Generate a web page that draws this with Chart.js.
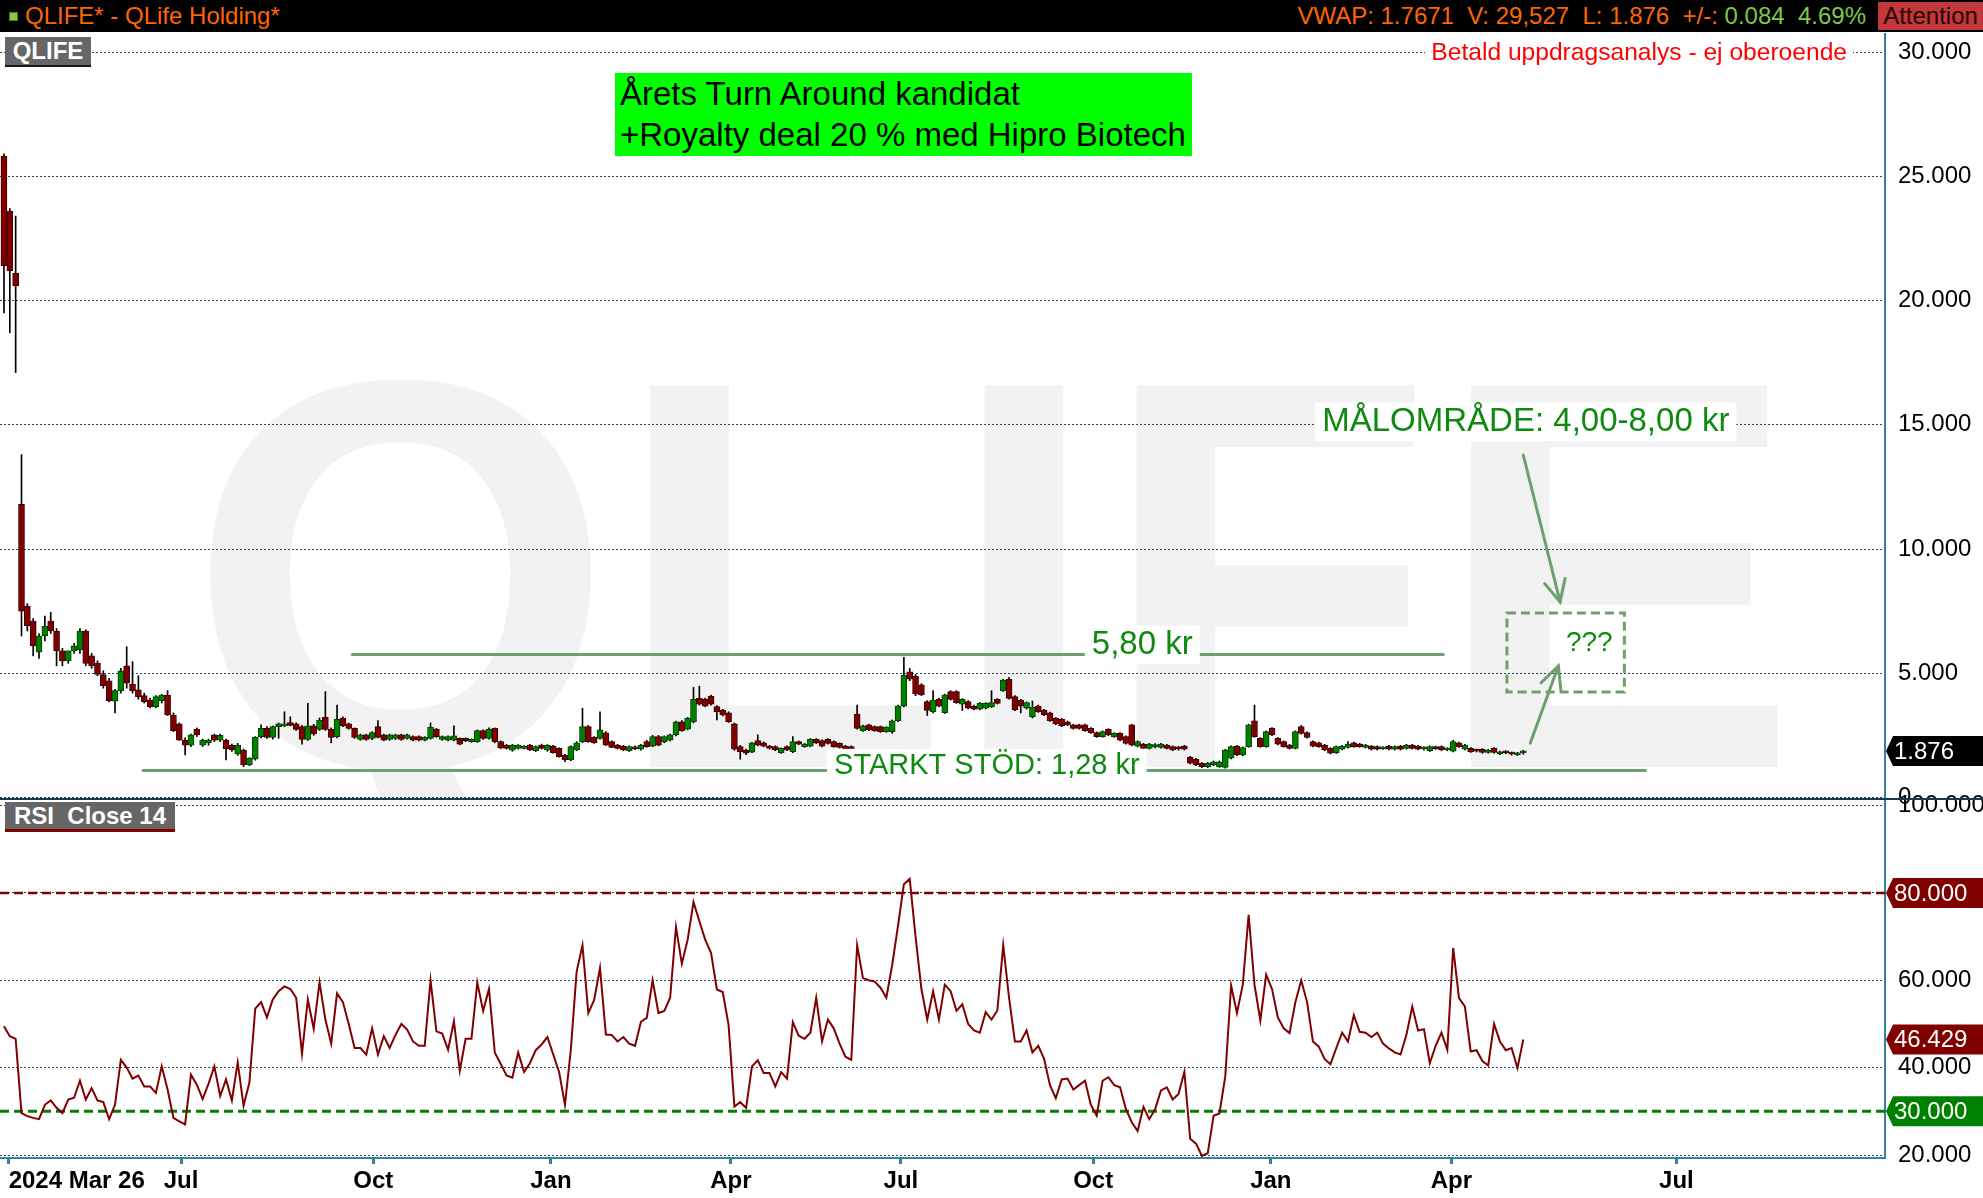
<!DOCTYPE html>
<html>
<head>
<meta charset="utf-8">
<script src="https://cdn.jsdelivr.net/npm/chart.js@4.4.1/dist/chart.umd.min.js"></script>
<style>
html,body{margin:0;padding:0;background:#fff;overflow:hidden}
body{width:1983px;height:1198px;position:relative;font-family:"Liberation Sans",Arial,sans-serif}
#hdr{position:absolute;left:0;top:0;width:1983px;height:32px;background:#000;z-index:5;font-size:24px;line-height:32px;white-space:pre}
#sq{position:absolute;left:9px;top:12px;width:7px;height:7px;background:#8dc63f;border:1px solid #4a7a20}
#ttl{position:absolute;left:25px;top:0;color:#ff6600}
#info{position:absolute;right:117px;top:0;color:#ff6600}
#info .g{color:#7cc94a}
#att{position:absolute;left:1878px;top:2px;width:105px;height:28px;line-height:28px;background:#c1393c;color:#2a0000;text-align:center}
#pcw{position:absolute;left:0;top:33px;width:1983px;height:787px}
#rcw{position:absolute;left:0;top:775px;width:1983px;height:423px}
.tag{position:absolute;background:#666;color:#fff;font-weight:bold;font-size:24px;text-align:center;z-index:5;white-space:pre}
#qtag{left:5px;top:37px;width:86px;height:28px;line-height:28px;border-bottom:2px solid #1a1a1a}
#rtag{left:5px;top:802px;width:170px;height:27px;line-height:28px;border-bottom:3px solid #800000}
#banner{position:absolute;left:615px;top:73px;width:572px;height:83px;padding-left:5px;background:#00ff00;color:#000;font-size:33px;line-height:41px;white-space:nowrap;z-index:5}
#disc{position:absolute;right:130px;top:39px;height:26px;line-height:26px;padding:0 6px;background:#fff;color:#ff0000;font-size:24.6px;white-space:nowrap;z-index:5}
#sep{position:absolute;left:0;top:798px;width:1983px;height:2px;background:#173b4b;z-index:4}
</style>
</head>
<body>
<div id="hdr"><span id="sq"></span><span id="ttl">QLIFE* - QLife Holding*</span><span id="info">VWAP: 1.7671  V: 29,527  L: 1.876  +/-: <span class="g">0.084  4.69%</span></span><span id="att">Attention</span></div>
<div id="pcw"><canvas id="pc" width="1983" height="787" style="width:1983px;height:787px"></canvas></div>
<div id="rcw"><canvas id="rc" width="1983" height="423" style="width:1983px;height:423px"></canvas></div>
<div id="sep"></div>
<div id="qtag" class="tag">QLIFE</div>
<div id="rtag" class="tag">RSI  Close 14</div>
<div id="banner">Årets Turn Around kandidat<br>+Royalty deal 20 % med Hipro Biotech</div>
<div id="disc">Betald uppdragsanalys - ej oberoende</div>
<script>
// ---------- DATA (one candle per two trading days, 2024-03 .. 2026-04) ----------
const open = [
25.8,23.6,21.1,11.8,7.7,7.1,5.85,6.5,7.1,6.7,
5.9,5.5,5.9,5.95,6.7,5.7,5.4,4.95,4.7,3.88,
4.3,5.3,4.55,4.33,4.1,3.92,3.66,3.9,4.12,3.32,
2.96,2.31,2.11,2.74,2.11,2.2,2.52,2.31,2.31,2.11,
1.75,1.91,1.31,1.54,2.45,2.78,2.42,2.85,2.88,3.01,
2.96,2.85,2.34,2.88,2.74,3.23,2.74,2.45,3.19,2.96,
2.78,2.34,2.52,2.38,2.85,2.52,2.34,2.38,2.52,2.38,
2.45,2.45,2.31,2.38,2.75,2.34,2.31,2.31,2.38,2.38,
2.25,2.25,2.69,2.38,2.78,2.25,2.11,1.9,1.98,1.98,
2.11,1.88,2.11,1.9,2.07,1.98,1.71,1.51,1.91,2.25,
2.85,2.42,2.38,2.6,2.25,2.11,2.07,1.88,2.0,1.94,
2.25,2.07,2.45,2.25,2.31,2.52,3.05,2.75,3.05,3.99,
3.95,4.08,3.66,3.52,3.41,2.96,2.05,1.91,1.82,2.29,
2.2,2.07,2.05,1.8,2.05,1.84,2.25,2.05,2.07,2.34,
2.29,2.34,2.25,2.18,2.07,2.05,3.36,2.69,2.92,2.85,
2.85,2.65,2.65,3.09,3.68,5.06,4.89,4.53,3.86,3.45,
3.95,3.41,4.26,4.26,3.76,3.86,3.68,3.55,3.59,3.65,
3.95,4.3,4.76,4.06,3.92,3.59,3.25,3.68,3.52,3.41,
3.19,3.15,3.05,2.92,2.92,2.92,2.78,2.61,2.45,2.74,
2.45,2.58,2.45,2.92,2.07,2.15,1.98,2.05,2.02,2.11,
2.05,2.02,2.07,1.62,1.54,1.38,1.24,1.31,1.24,1.21,
1.58,2.07,1.71,2.05,3.09,2.38,2.05,2.78,2.38,2.25,
2.11,1.98,2.85,2.61,2.25,2.2,2.11,1.98,1.8,1.94,
2.02,2.2,2.15,2.02,2.07,2.05,1.96,2.07,1.94,2.07,
1.98,2.11,2.07,1.96,1.88,2.03,2.05,1.92,1.86,2.2,
1.94,1.98,1.92,1.94,1.81,1.98,1.75,1.84,1.8,1.72,
1.79];
const high = [
25.9,23.7,23.4,13.8,7.8,7.2,6.6,7.3,7.45,6.8,
6.0,5.9,6.2,6.8,6.75,5.8,5.5,5.1,4.8,4.35,
5.2,6.07,5.47,4.9,4.2,4.0,4.1,4.15,4.3,3.4,
3.0,2.4,2.55,2.8,2.35,2.35,2.55,2.55,2.35,2.15,
2.18,1.95,1.6,2.45,2.92,2.85,2.88,3.0,3.45,3.25,
3.0,2.9,3.79,2.95,3.2,4.26,2.8,3.72,3.25,3.0,
2.8,2.55,2.55,2.65,3.1,2.55,2.55,2.55,2.55,2.55,
2.48,2.48,2.45,3.0,2.78,2.48,2.48,2.88,2.4,2.4,
2.36,2.72,2.72,2.8,2.8,2.28,2.14,2.14,2.13,2.09,
2.14,2.08,2.15,2.13,2.1,2.0,1.74,2.08,2.25,3.59,
2.9,2.45,3.45,2.65,2.28,2.14,2.1,2.08,2.08,2.14,
2.3,2.5,2.5,2.48,2.55,3.08,3.1,3.22,4.43,4.48,
4.0,4.12,3.7,3.55,3.45,3.0,2.1,1.95,2.22,2.52,
2.24,2.1,2.08,2.0,2.08,2.45,2.28,2.18,2.37,2.37,
2.32,2.37,2.28,2.2,2.1,2.08,3.72,2.91,2.95,2.88,
2.88,2.85,3.12,3.72,5.64,5.2,4.95,4.58,3.9,4.3,
4.0,4.16,4.3,4.3,3.98,3.9,3.72,3.82,3.82,4.3,
3.98,4.76,4.84,4.1,3.95,3.85,3.88,3.72,3.55,3.44,
3.22,3.18,3.08,2.95,2.95,2.95,2.81,2.64,2.68,2.77,
2.61,2.61,2.48,2.95,2.28,2.18,2.18,2.17,2.18,2.14,
2.08,2.06,2.1,1.66,1.58,1.41,1.41,1.47,1.47,1.94,
2.08,2.1,2.04,2.95,3.72,2.41,2.68,2.81,2.41,2.28,
2.14,2.68,2.9,2.64,2.28,2.23,2.14,2.01,2.08,2.1,
2.25,2.23,2.18,2.14,2.1,2.08,2.04,2.1,2.08,2.1,
2.14,2.14,2.1,2.04,2.08,2.07,2.08,2.0,2.3,2.23,
2.14,2.01,1.95,1.97,1.94,2.01,1.87,1.88,1.83,1.82,
1.9];
const low = [
19.5,18.7,17.1,6.5,6.7,5.7,5.6,6.3,6.6,5.3,
5.3,5.4,5.8,5.8,5.3,5.2,4.9,4.4,3.85,3.4,
4.2,4.4,4.2,3.95,3.8,3.6,3.6,3.8,3.3,2.65,
2.3,1.71,2.05,2.45,2.05,2.1,2.25,2.25,1.51,1.85,
1.7,1.24,1.28,1.5,2.4,2.38,2.35,2.38,2.85,2.88,
2.7,2.15,2.3,2.5,2.7,2.7,2.2,2.4,2.85,2.75,
2.38,2.3,2.3,2.33,2.4,2.28,2.3,2.33,2.3,2.35,
2.28,2.28,2.28,2.35,2.42,2.3,2.28,2.28,2.12,2.25,
2.22,2.22,2.34,2.35,2.2,1.96,1.95,1.86,1.95,1.95,
1.88,1.85,1.95,1.86,1.78,1.62,1.44,1.48,1.88,2.2,
2.22,2.18,2.35,2.1,2.0,1.95,1.88,1.85,1.92,1.9,
2.02,2.04,2.08,2.2,2.28,2.48,2.66,2.72,3.0,3.72,
3.65,3.72,3.12,3.28,3.02,1.9,1.54,1.72,1.8,2.08,
2.04,1.95,1.88,1.77,1.88,1.8,2.12,2.02,2.04,2.17,
2.04,2.15,2.02,1.99,1.91,1.88,2.75,2.66,2.69,2.66,
2.62,2.62,2.58,3.05,3.65,4.7,4.1,4.1,3.3,3.4,
3.65,3.38,3.92,3.79,3.5,3.56,3.52,3.52,3.56,3.62,
3.76,4.27,3.96,3.49,3.4,3.56,3.2,3.42,3.29,3.06,
2.93,2.85,2.89,2.75,2.75,2.66,2.58,2.42,2.42,2.49,
2.42,2.28,2.15,2.08,2.04,1.95,1.95,2.0,1.99,1.95,
1.88,1.9,1.91,1.35,1.28,1.2,1.2,1.28,1.21,1.18,
1.55,1.68,1.68,2.02,2.42,2.02,2.02,2.49,2.12,2.02,
1.95,1.95,2.55,2.39,2.04,2.02,1.88,1.75,1.77,1.91,
1.99,2.02,2.02,1.99,1.91,1.91,1.93,1.91,1.91,1.91,
1.95,1.95,1.91,1.9,1.85,1.93,1.88,1.88,1.83,2.02,
1.91,1.81,1.83,1.78,1.78,1.78,1.72,1.76,1.7,1.69,
1.74];
const close = [
21.4,21.2,20.6,7.5,6.9,6.1,6.5,6.9,6.7,5.9,
5.5,5.9,6.1,6.7,5.4,5.3,4.95,4.5,3.9,4.3,
5.1,4.6,4.3,4.06,3.86,3.66,4.06,4.12,3.32,2.69,
2.31,2.11,2.52,2.52,2.31,2.31,2.31,2.5,1.95,1.91,
2.11,1.31,1.58,2.42,2.78,2.42,2.85,2.96,2.96,2.9,
2.74,2.34,2.88,2.56,3.12,2.74,2.42,3.15,2.88,2.78,
2.42,2.52,2.34,2.61,2.42,2.31,2.52,2.52,2.34,2.52,
2.31,2.31,2.42,2.82,2.45,2.45,2.45,2.48,2.15,2.29,
2.34,2.69,2.38,2.74,2.25,2.0,1.98,2.11,2.11,2.07,
1.91,2.05,1.98,2.1,1.8,1.64,1.51,2.05,2.2,2.85,
2.25,2.2,2.72,2.11,2.02,1.98,1.91,2.05,1.96,2.11,
2.05,2.45,2.11,2.45,2.52,3.05,2.69,3.19,3.95,3.76,
3.68,3.76,3.45,3.32,3.05,1.94,1.84,1.78,2.2,2.11,
2.07,1.98,1.91,1.98,1.91,2.25,2.15,2.15,2.34,2.2,
2.07,2.18,2.05,2.02,1.94,1.91,2.78,2.88,2.72,2.69,
2.65,2.82,3.09,3.68,4.93,4.76,4.17,4.13,3.5,3.92,
3.68,4.13,3.95,3.82,3.95,3.59,3.55,3.79,3.79,3.82,
3.79,4.73,3.99,3.52,3.68,3.82,3.63,3.45,3.32,3.09,
2.96,2.88,2.92,2.78,2.78,2.69,2.61,2.45,2.65,2.52,
2.58,2.31,2.18,2.11,2.25,1.98,2.15,2.12,2.15,1.98,
1.91,1.96,1.94,1.38,1.31,1.24,1.38,1.44,1.44,1.91,
2.05,1.71,2.01,2.92,2.45,2.05,2.65,2.52,2.15,2.05,
1.98,2.65,2.58,2.42,2.07,2.05,1.91,1.78,2.05,2.07,
2.15,2.05,2.05,2.11,1.94,1.94,2.02,1.94,2.05,1.94,
2.11,1.98,1.94,1.98,2.05,1.97,1.91,1.95,2.25,2.05,
2.11,1.84,1.86,1.81,1.91,1.81,1.84,1.8,1.75,1.79,
1.876];
const rsi = [
49.5,47.2,46.6,29.6,28.9,28.5,28.2,31.5,32.5,30.8,
29.6,32.7,33.1,37.0,32.7,35.3,32.5,32.1,28.2,31.5,
41.8,40.0,37.5,38.2,35.7,35.7,34.2,40.3,35.0,28.5,
27.7,27.0,38.4,36.1,32.8,36.3,40.3,33.5,37.3,32.5,
41.2,31.3,36.6,53.5,55.0,51.5,55.6,57.5,58.6,58.0,
56.0,43.2,55.6,48.9,59.5,51.0,45.5,57.0,55.0,50.0,
44.5,44.5,43.0,49.0,43.0,47.2,44.5,47.5,50.0,48.7,
46.0,45.0,45.0,60.0,48.3,47.8,44.1,50.6,39.3,46.6,
46.6,59.5,53.0,58.0,43.4,40.9,38.2,37.7,43.5,39.0,
41.0,44.0,45.3,47.0,43.0,39.0,31.5,44.0,62.0,68.0,
52.5,55.5,62.8,47.6,47.5,46.0,47.0,45.5,45.0,50.5,
51.4,60.0,52.5,53.0,56.0,72.2,63.8,69.3,77.9,73.5,
69.3,66.3,57.9,57.3,49.8,31.1,32.1,30.8,40.3,41.7,
38.8,38.8,35.7,39.0,37.5,50.4,47.3,46.6,48.0,56.0,
46.0,51.0,49.0,45.5,42.5,41.8,68.0,60.5,60.0,59.7,
58.3,56.0,63.5,72.5,82.0,83.2,70.0,58.0,51.0,57.5,
51.0,59.0,57.5,53.0,54.5,50.0,48.5,48.0,52.7,51.0,
53.1,68.0,56.0,46.0,46.0,48.5,43.5,45.0,42.0,36.0,
33.0,37.3,37.5,35.0,36.0,37.0,31.5,29.0,37.0,37.8,
36.0,35.5,30.5,27.5,25.5,31.0,28.2,30.5,34.8,35.5,
32.7,34.0,39.0,23.7,22.6,19.8,20.4,29.0,29.5,38.0,
58.8,52.5,59.0,75.0,59.0,50.8,61.3,58.0,51.5,49.0,
47.9,55.0,60.0,55.0,46.0,44.8,42.0,40.8,44.5,48.0,
46.0,52.0,48.2,48.0,47.0,48.0,45.5,44.4,43.5,43.0,
47.5,54.0,48.5,48.8,41.0,45.0,48.0,44.1,67.4,55.9,
54.0,43.7,44.0,41.5,40.5,50.0,46.0,44.0,44.5,39.9,
46.429];
// tick marks: bar position of each month start, and the labels
const tickPos    = [0.8, 30.3, 63.2, 93.6, 124.4, 153.5, 186.4, 216.8, 247.7, 286.2];
const tickLabels = ["2024 Mar 26", "Jul", "Oct", "Jan", "Apr", "Jul", "Oct", "Jan", "Apr", "Jul"];
const priceTicks = [0, 5, 10, 15, 20, 25, 30];
const rsiTicks   = [20, 40, 60, 80, 100];
const rsiLevels  = [80, 30];

// ---------- LAYOUT / STYLE ----------
const X_MIN = -0.68, X_MAX = 321.9;
const FONT = '"Liberation Sans", Arial, sans-serif';
Chart.defaults.font.family = FONT;
const GRID = '#1d4b5c', AXIS = '#3580a5';
const UP = '#008000', DN = '#800000', UPE = '#004000', DNE = '#3a0000';
const ANN = '#6f9f6f', ANN_T = '#0e8a0e';

function tagBox(ctx, xL, xR, y, fill, text) {
  const h = 30;
  ctx.save();
  ctx.beginPath();
  ctx.moveTo(xL, y); ctx.lineTo(xL + 7, y - h / 2); ctx.lineTo(xR, y - h / 2);
  ctx.lineTo(xR, y + h / 2); ctx.lineTo(xL + 7, y + h / 2); ctx.closePath();
  ctx.fillStyle = fill; ctx.fill();
  ctx.fillStyle = '#fff'; ctx.font = '24px ' + FONT;
  ctx.textAlign = 'left'; ctx.textBaseline = 'middle';
  ctx.fillText(text, xL + 8, y + 1);
  ctx.restore();
}

const watermark = {
  id: 'wm',
  beforeDraw(chart) {
    const {ctx, chartArea: a} = chart;
    ctx.save();
    ctx.beginPath(); ctx.rect(a.left, a.top, a.right - a.left, a.bottom - a.top); ctx.clip();
    ctx.font = 'bold 555px ' + FONT;
    ctx.fillStyle = '#f2f2f2';
    ctx.textBaseline = 'alphabetic'; ctx.textAlign = 'left';
    ctx.translate(a.left + 188, a.top + 734);
    ctx.scale(0.986, 1);
    ctx.fillText('QLIFE', 0, 0);
    ctx.restore();
  }
};

const annot = {
  hlines: [{x1: 59.6, x2: 246.3, y: 5.75}, {x1: 23.8, x2: 280.9, y: 1.09}],
  labels: [
    {t: '5,80 kr', x: 194.8, y: 6.18, size: 33, align: 'center', bg: true},
    {t: 'STARKT STÖD: 1,28 kr', x: 168.2, y: 1.31, size: 29, align: 'center', bg: true},
    {t: 'MÅLOMRÅDE: 4,00-8,00 kr', x: 225.6, y: 15.15, size: 33, align: 'left', bg: true},
    {t: '???', x: 271.3, y: 6.26, size: 28, align: 'center', bg: false}
  ],
  arrows: [{x1: 260.0, y1: 13.78, x2: 266.3, y2: 7.87}, {x1: 261.2, y1: 2.19, x2: 266.0, y2: 5.29}],
  box: {x1: 257.2, x2: 277.3, y1: 7.42, y2: 4.25}
};

const annotPlugin = {
  id: 'annot',
  afterDatasetsDraw(chart) {
    const {ctx} = chart, X = chart.scales.x, Y = chart.scales.y;
    const px = v => X.getPixelForValue(v), py = v => Y.getPixelForValue(v);
    ctx.save();
    ctx.strokeStyle = ANN; ctx.lineWidth = 3; ctx.lineCap = 'round';
    annot.hlines.forEach(l => {
      ctx.beginPath(); ctx.moveTo(px(l.x1), py(l.y)); ctx.lineTo(px(l.x2), py(l.y)); ctx.stroke();
    });
    annot.arrows.forEach(a => {
      const x1 = px(a.x1), y1 = py(a.y1), x2 = px(a.x2), y2 = py(a.y2);
      ctx.beginPath(); ctx.moveTo(x1, y1); ctx.lineTo(x2, y2); ctx.stroke();
      const ang = Math.atan2(y1 - y2, x1 - x2), L = 24, s = 26 * Math.PI / 180;
      ctx.beginPath();
      ctx.moveTo(x2 + L * Math.cos(ang - s), y2 + L * Math.sin(ang - s));
      ctx.lineTo(x2, y2);
      ctx.lineTo(x2 + L * Math.cos(ang + s), y2 + L * Math.sin(ang + s));
      ctx.stroke();
    });
    const b = annot.box;
    ctx.setLineDash([9, 5]); ctx.lineCap = 'butt';
    ctx.strokeRect(px(b.x1), py(b.y1), px(b.x2) - px(b.x1), py(b.y2) - py(b.y1));
    ctx.setLineDash([]);
    annot.labels.forEach(l => {
      ctx.font = l.size + 'px ' + FONT;
      const w = ctx.measureText(l.t).width;
      const cx = px(l.x), cy = py(l.y);
      const left = l.align === 'left' ? cx : cx - w / 2;
      if (l.bg) {
        const h = l.size * 1.18;
        ctx.fillStyle = '#fff';
        ctx.fillRect(left - 7, cy - h / 2 + 1, w + 14, h);
      }
      ctx.fillStyle = ANN_T; ctx.textAlign = 'left'; ctx.textBaseline = 'middle';
      ctx.fillText(l.t, left, cy + 1);
    });
    ctx.restore();
  },
  afterDraw(chart) {
    const {ctx, chartArea: a} = chart, Y = chart.scales.y;
    const last = close[close.length - 1];
    tagBox(ctx, a.right + 1, chart.width, Y.getPixelForValue(last), '#000', last.toFixed(3));
  }
};

const idx = close.map((_, i) => i);
new Chart(document.getElementById('pc'), {
  type: 'bar',
  data: {
    datasets: [
      {
        label: 'body', order: 0, grouped: false,
        data: idx.map(i => ({x: i, y: [open[i], close[i]]})),
        backgroundColor: idx.map(i => close[i] >= open[i] ? UP : DN),
        borderColor: idx.map(i => close[i] >= open[i] ? UPE : DNE),
        borderWidth: 1, borderSkipped: false, barThickness: 6, minBarLength: 2
      },
      {
        label: 'wick', order: 1, grouped: false,
        data: idx.map(i => ({x: i, y: [low[i], high[i]]})),
        backgroundColor: '#000', borderWidth: 0, barThickness: 1
      }
    ]
  },
  options: {
    responsive: false, animation: false, events: [],
    layout: {padding: {left: 0, right: 0, top: 0, bottom: 20}},
    plugins: {legend: {display: false}, tooltip: {enabled: false}},
    scales: {
      x: {type: 'linear', min: X_MIN, max: X_MAX, display: false, offset: false},
      y: {
        type: 'linear', position: 'right', min: -0.1006, max: 30.765,
        afterBuildTicks: s => { s.ticks = priceTicks.map(v => ({value: v})); },
        afterFit: s => { s.width = 98; s.paddingTop = 0; s.paddingBottom = 0; },
        ticks: {callback: v => v === 0 ? '0' : v.toFixed(3), color: '#000', font: {size: 24}, padding: 13, crossAlign: 'near', autoSkip: false},
        grid: {color: GRID, lineWidth: 1, drawTicks: false},
        border: {display: true, color: AXIS, width: 2, dash: [2, 2]}
      }
    }
  },
  plugins: [watermark, annotPlugin]
});

const rsiLabels = {
  id: 'rsiLabels',
  afterDraw(chart) {
    const {ctx, chartArea: a} = chart, Y = chart.scales.y;
    const last = rsi[rsi.length - 1];
    tagBox(ctx, a.right + 1, chart.width, Y.getPixelForValue(rsiLevels[0]), DN, rsiLevels[0].toFixed(3));
    tagBox(ctx, a.right + 1, chart.width, Y.getPixelForValue(last), DN, last.toFixed(3));
    tagBox(ctx, a.right + 1, chart.width, Y.getPixelForValue(rsiLevels[1]), UP, rsiLevels[1].toFixed(3));
  }
};

new Chart(document.getElementById('rc'), {
  type: 'line',
  data: {
    datasets: [
      {data: rsi.map((v, i) => ({x: i, y: v})), borderColor: DN, borderWidth: 2, pointRadius: 0, tension: 0, order: 0},
      {data: [{x: X_MIN, y: rsiLevels[0]}, {x: X_MAX, y: rsiLevels[0]}], borderColor: DN, borderWidth: 2.5, borderDash: [9, 5], pointRadius: 0, order: 1},
      {data: [{x: X_MIN, y: rsiLevels[1]}, {x: X_MAX, y: rsiLevels[1]}], borderColor: UP, borderWidth: 3, borderDash: [9, 5], pointRadius: 0, order: 1}
    ]
  },
  options: {
    responsive: false, animation: false, events: [],
    layout: {padding: {left: 0, right: 0, top: 25, bottom: 0}},
    plugins: {legend: {display: false}, tooltip: {enabled: false}},
    scales: {
      x: {
        type: 'linear', min: X_MIN, max: X_MAX, offset: false,
        afterBuildTicks: s => { s.ticks = tickPos.map(v => ({value: v})).concat([{value: X_MAX}]); },
        afterFit: s => { s.height = 40; s.paddingLeft = 0; s.paddingRight = 0; },
        ticks: {autoSkip: false, maxRotation: 0, minRotation: 0, align: 'inner', padding: 3, color: '#000',
                font: {size: 24, weight: 'bold'}, callback: (v, i) => tickLabels[i] !== undefined ? tickLabels[i] : ''},
        grid: {drawOnChartArea: false, drawTicks: true, tickLength: 6, tickWidth: 3,
               tickColor: c => c.index < tickPos.length ? AXIS : 'rgba(0,0,0,0)'},
        border: {display: true, color: AXIS, width: 2}
      },
      y: {
        type: 'linear', position: 'right', min: 19.32, max: 101.26,
        afterBuildTicks: s => { s.ticks = rsiTicks.map(v => ({value: v})); },
        afterFit: s => { s.width = 98; s.paddingTop = 0; s.paddingBottom = 0; },
        ticks: {callback: v => v.toFixed(3), color: '#000', font: {size: 24}, padding: 13, crossAlign: 'near', autoSkip: false},
        grid: {color: GRID, lineWidth: 1, drawTicks: false},
        border: {display: true, color: AXIS, width: 2, dash: [2, 2]}
      }
    }
  },
  plugins: [rsiLabels]
});
</script>
</body>
</html>
